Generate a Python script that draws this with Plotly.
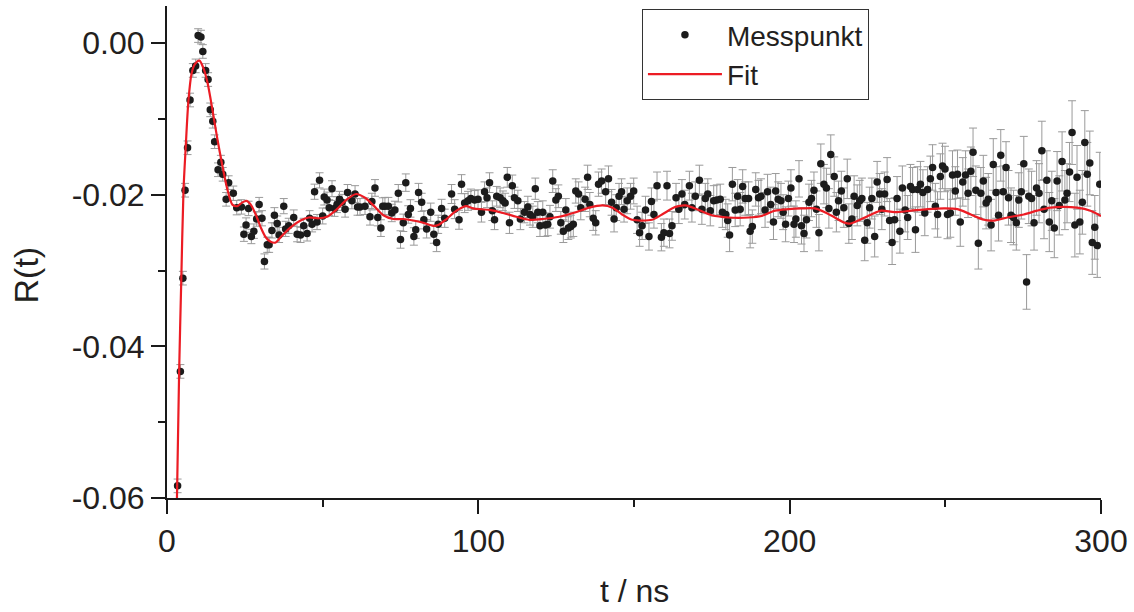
import plotly.graph_objects as go

# measured points: time (ns) and R(t)
t_meas = [3.4,4.3,5.1,5.8,6.6,7.4,8.3,9.2,10.0,10.9,11.5,12.4,13.2,13.9,14.7,15.3,16.4,17.3,17.9,19.0,19.8,21.3,22.4,23.9,24.7,25.4,26.2,27.1,27.9,28.8,29.6,30.5,31.3,32.2,32.8,33.7,34.5,35.4,36.0,
37.5,38.1,39.1,40.7,41.8,42.9,43.9,45.0,45.8,46.6,47.4,48.2,49.0,50.0,50.5,51.4,52.1,53.0,53.8,54.6,55.4,56.2,57.2,58.0,59.4,60.4,61.2,62.0,63.6,65.2,65.8,66.8,67.7,68.7,69.3,70.0,71.1,72.2,73.2,74.3,75.0,75.9,76.7,77.5,78.2,79.3,79.9,80.8,81.8,82.5,83.4,84.7,85.7,86.6,87.1,88.2,89.2,91.4,92.4,93.8,94.6,95.6,96.7,
97.6,98.8,99.9,101.0,102.0,102.8,103.6,104.5,105.2,105.9,107.0,107.9,108.6,109.3,110.0,110.9,111.6,112.7,113.5,114.8,115.9,116.6,117.5,118.3,119.1,119.8,120.7,121.5,122.3,123.0,123.9,124.9,125.7,126.5,127.3,128.1,128.9,129.7,130.5,131.3,132.2,132.9,134.3,135.1,135.8,136.9,137.7,138.6,139.6,140.9,141.8,142.8,143.6,144.3,145.2,146.0,146.8,147.8,148.9,149.9,151.0,151.8,152.6,153.7,154.8,155.6,156.4,157.4,
158.8,159.6,160.6,161.4,162.2,163.5,164.4,165.4,166.3,167.8,168.6,169.7,171.0,171.8,172.9,173.7,174.5,175.6,176.6,177.7,178.4,179.5,180.1,180.7,181.6,182.5,183.3,184.1,184.9,185.7,186.8,187.3,188.0,189.1,190.0,190.8,192.1,192.9,193.9,194.8,195.5,196.3,197.2,197.9,198.7,199.6,200.4,201.4,202.0,203.0,203.8,204.6,205.4,206.2,207.0,207.8,208.6,209.4,210.0,211.0,211.8,212.6,213.2,214.3,215.0,215.7,216.6,217.4,218.5,
219.0,220.0,220.7,221.7,222.5,223.2,224.1,224.9,225.7,226.4,227.3,228.1,228.9,229.6,230.5,231.3,232.1,232.9,233.7,234.5,235.4,236.2,237.1,237.9,238.8,239.5,240.4,241.1,242.0,242.8,243.4,244.3,245.2,245.9,246.8,247.5,248.4,249.1,249.9,250.7,251.6,252.3,253.2,253.9,254.8,255.6,256.5,257.3,258.2,258.9,259.8,260.6,261.4,262.2,263.1,263.8,264.7,265.4,266.3,267.1,267.8,268.6,269.5,270.3,271.1,271.9,272.8,273.6,274.4,275.2,276.1,276.8,277.7,278.5,279.3,280.1,281.0,281.7,282.6,283.4,284.2,285.0,285.9,286.6,287.5,288.4,289.1,289.9,290.7,291.6,292.3,293.2,294.0,294.8,295.6,296.4,297.2,298.0,298.8,299.6]

r_meas = [-0.0584,-0.0433,-0.0310,-0.0194,-0.0138,-0.0075,-0.0036,-0.0030,0.0010,0.0008,-0.0011,-0.0036,-0.0048,-0.0088,-0.0103,-0.0130,-0.0167,-0.0157,-0.0173,-0.0206,-0.0184,-0.0198,-0.0217,-0.0216,-0.0252,-0.0240,-0.0218,-0.0255,-0.0248,-0.0232,-0.0213,-0.0231,-0.0288,-0.0266,-0.0266,-0.0247,-0.0227,-0.0238,-0.0253,
-0.0215,-0.0245,-0.0241,-0.0230,-0.0252,-0.0253,-0.0241,-0.0251,-0.0231,-0.0239,-0.0196,-0.0236,-0.0181,-0.0228,-0.0203,-0.0207,-0.0217,-0.0192,-0.0218,-0.0213,-0.0206,-0.0210,-0.0219,-0.0197,-0.0208,-0.0199,-0.0216,-0.0216,-0.0215,-0.0229,-0.0209,-0.0191,-0.0230,-0.0244,-0.0215,-0.0215,-0.0215,-0.0224,-0.0220,-0.0198,-0.0259,-0.0237,-0.0184,-0.0226,-0.0218,-0.0255,-0.0246,-0.0197,-0.0210,-0.0233,-0.0245,-0.0223,-0.0252,-0.0263,-0.0239,-0.0218,-0.0231,-0.0199,-0.0219,-0.0233,-0.0186,-0.0211,-0.0208,
-0.0205,-0.0207,-0.0206,-0.0223,-0.0196,-0.0204,-0.0184,-0.0221,-0.0233,-0.0202,-0.0204,-0.0208,-0.0211,-0.0177,-0.0237,-0.0188,-0.0204,-0.0208,-0.0232,-0.0223,-0.0216,-0.0226,-0.0229,-0.0192,-0.0223,-0.0241,-0.0223,-0.0240,-0.0239,-0.0229,-0.0182,-0.0207,-0.0202,-0.0237,-0.0248,-0.0220,-0.0244,-0.0242,-0.0239,-0.0195,-0.0199,-0.0217,-0.0206,-0.0177,-0.0213,-0.0231,-0.0237,-0.0186,-0.0182,-0.0196,-0.0179,-0.0210,-0.0232,-0.0217,-0.0202,-0.0196,-0.0219,-0.0208,-0.0202,-0.0195,-0.0233,-0.0250,-0.0241,-0.0220,-0.0255,-0.0209,-0.0226,-0.0188,
-0.0256,-0.0250,-0.0188,-0.0251,-0.0241,-0.0204,-0.0219,-0.0199,-0.0213,-0.0188,-0.0217,-0.0202,-0.0181,-0.0219,-0.0205,-0.0199,-0.0221,-0.0208,-0.0207,-0.0206,-0.0223,-0.0226,-0.0234,-0.0253,-0.0186,-0.0220,-0.0202,-0.0219,-0.0189,-0.0205,-0.0205,-0.0248,-0.0242,-0.0193,-0.0204,-0.0202,-0.0220,-0.0196,-0.0213,-0.0236,-0.0195,-0.0206,-0.0208,-0.0223,-0.0239,-0.0205,-0.0191,-0.0239,-0.0232,-0.0179,-0.0241,-0.0251,-0.0233,-0.0210,-0.0205,-0.0194,-0.0219,-0.0250,-0.0159,-0.0186,-0.0191,-0.0218,-0.0147,-0.0176,-0.0223,-0.0208,-0.0195,-0.0217,-0.0179,
-0.0238,-0.0232,-0.0202,-0.0214,-0.0208,-0.0205,-0.0260,-0.0237,-0.0217,-0.0205,-0.0255,-0.0183,-0.0199,-0.0219,-0.0199,-0.0180,-0.0234,-0.0263,-0.0233,-0.0205,-0.0248,-0.0191,-0.0220,-0.0230,-0.0189,-0.0193,-0.0246,-0.0193,-0.0186,-0.0197,-0.0224,-0.0193,-0.0179,-0.0164,-0.0215,-0.0226,-0.0176,-0.0162,-0.0166,-0.0226,-0.0224,-0.0174,-0.0195,-0.0173,-0.0236,-0.0183,-0.0174,-0.0198,-0.0169,-0.0144,-0.0194,-0.0264,-0.0198,-0.0182,-0.0211,-0.0206,-0.0240,-0.0160,-0.0197,-0.0227,-0.0148,-0.0196,-0.0164,-0.0204,-0.0227,-0.0230,-0.0237,-0.0207,-0.0196,-0.0159,-0.0315,-0.0202,-0.0205,-0.0237,-0.0191,-0.0198,-0.0142,-0.0219,-0.0181,-0.0236,-0.0208,-0.0244,-0.0182,-0.0214,-0.0156,-0.0207,-0.0198,-0.0170,-0.0118,-0.0240,-0.0177,-0.0236,-0.0210,-0.0131,-0.0173,-0.0158,-0.0263,-0.0243,-0.0267,-0.0186]

# error bar half-length per 10 ns block (0-10, 10-20, ..., 300)
err_block = [0.0009,0.0009,0.00095,0.0010,0.0010,0.00105,0.0011,0.00115,0.0012,0.00125,
             0.0013,0.0014,0.0015,0.0016,0.0017,0.0018,0.0019,0.0020,0.0022,0.0023,
             0.0024,0.0026,0.0027,0.0029,0.0030,0.0032,0.0034,0.0036,0.0039,0.0042,0.0045]

# fit curve
fit_t = [3.2,3.9,4.6,5.3,6.0,6.9,7.9,8.9,10.4,11.7,13.0,14.6,16.2,17.8,19.4,21.0,22.6,24.2,25.6,26.9,28.5,30.1,31.7,33.3,34.9,36.5,39.7,42.9,45.5,48.7,51.4,54.6,57.8,60.8,63.6,66.3,69.5,72.7,75.9,79.1,82.3,85.5,87.1,89.8,93.0,96.1,98.3,103.6,107.9,112.2,116.4,120.7,126.0,131.3,135.6,139.9,143.1,146.2,149.4,152.6,155.8,159.0,163.3,166.5,170.8,175.0,180.4,186.8,191.0,195.3,199.6,203.8,208.1,211.3,214.5,217.7,219.3,222.0,226.2,229.4,233.7,239.0,244.3,249.7,253.9,258.2,262.4,265.6,269.9,275.2,279.5,283.8,288.0,292.3,296.6,300.0]
fit_r = [-0.0600,-0.0433,-0.0310,-0.0194,-0.0138,-0.0075,-0.0040,-0.0028,-0.0023,-0.0033,-0.0052,-0.0088,-0.0127,-0.0162,-0.0193,-0.0213,-0.0215,-0.0210,-0.0208,-0.0213,-0.0226,-0.0243,-0.0256,-0.0262,-0.0263,-0.0256,-0.0243,-0.0234,-0.0230,-0.0231,-0.0229,-0.0219,-0.0206,-0.0199,-0.0204,-0.0214,-0.0227,-0.0232,-0.0232,-0.0234,-0.0237,-0.0241,-0.0240,-0.0232,-0.0221,-0.0215,-0.0218,-0.0220,-0.0224,-0.0229,-0.0233,-0.0232,-0.0229,-0.0223,-0.0217,-0.0214,-0.0217,-0.0226,-0.0233,-0.0234,-0.0233,-0.0226,-0.0216,-0.0214,-0.0220,-0.0227,-0.0230,-0.0230,-0.0228,-0.0221,-0.0219,-0.0218,-0.0218,-0.0223,-0.0230,-0.0237,-0.0238,-0.0234,-0.0226,-0.0221,-0.0223,-0.0221,-0.0219,-0.0218,-0.0219,-0.0226,-0.0233,-0.0234,-0.0230,-0.0226,-0.0221,-0.0217,-0.0216,-0.0217,-0.0221,-0.0228]

x_tickvals = [0, 100, 200, 300]
x_ticktext = ["0", "100", "200", "300"]
y_tickvals = [-0.06, -0.04, -0.02, 0.0]
y_ticktext = ["-0.06", "-0.04", "-0.02", "0.00"]
x_title = "t / ns"
y_title = "R(t)"

err_meas = [err_block[min(int(t // 10), len(err_block) - 1)] for t in t_meas]

FONT = "Liberation Sans, Arial, Helvetica, sans-serif"
TXT = "#231f20"
AX = "#1a1a1a"

fig = go.Figure()
fig.add_trace(go.Scatter(
    x=t_meas, y=r_meas, mode="markers", name="Messpunkt",
    marker=dict(color="#1c1c1c", size=7.5, line=dict(width=0)),
    error_y=dict(type="data", array=err_meas, visible=True,
                 color="#9a9a9a", thickness=1, width=4),
))
fig.add_trace(go.Scatter(
    x=fit_t, y=fit_r, mode="lines", name="Fit",
    line=dict(color="#ec1c24", width=2.2, shape="spline", smoothing=0.8),
))

fig.update_layout(
    width=1134, height=612, autosize=False,
    margin=dict(l=167, r=29, t=6, b=114, pad=0),
    paper_bgcolor="white", plot_bgcolor="white",
    font=dict(family=FONT, color=TXT, size=30),
    showlegend=True,
    legend=dict(
        x=0.5085, y=0.994, xanchor="left", yanchor="top",
        bgcolor="white", bordercolor="#333333", borderwidth=1,
        font=dict(family=FONT, size=28, color=TXT),
        itemwidth=74, tracegroupgap=0,
    ),
    xaxis=dict(
        range=[0, 300], showgrid=False, zeroline=False,
        showline=True, linecolor=AX, linewidth=2, mirror=False,
        ticks="outside", ticklen=14, tickwidth=2, tickcolor=AX,
        tickvals=x_tickvals, ticktext=x_ticktext,
        tickfont=dict(size=32, family=FONT, color=TXT),
        minor=dict(ticks="outside", ticklen=7, tickwidth=2, tickcolor=AX, dtick=50, tick0=0, showgrid=False),
    ),
    yaxis=dict(
        range=[-0.06, 0.0049], showgrid=False, zeroline=False,
        showline=True, linecolor=AX, linewidth=2, mirror=False,
        ticks="outside", ticklen=14, tickwidth=2, tickcolor=AX,
        tickvals=y_tickvals, ticktext=y_ticktext,
        tickfont=dict(size=32, family=FONT, color=TXT),
        minor=dict(ticks="outside", ticklen=7, tickwidth=2, tickcolor=AX, dtick=0.01, tick0=0, showgrid=False),
    ),
    annotations=[
        dict(text=x_title, xref="paper", yref="paper", x=0.5, y=-0.19,
             xanchor="center", yanchor="middle", showarrow=False,
             font=dict(size=32, family=FONT, color=TXT)),
        dict(text=y_title, xref="paper", yref="paper", x=-0.1506, y=0.453,
             xanchor="center", yanchor="middle", showarrow=False, textangle=-90,
             font=dict(size=34, family=FONT, color=TXT)),
    ],
)

fig.write_html("out.html", config={"displayModeBar": False},
               post_script="document.body.style.margin='0px';document.body.style.overflow='hidden';")
